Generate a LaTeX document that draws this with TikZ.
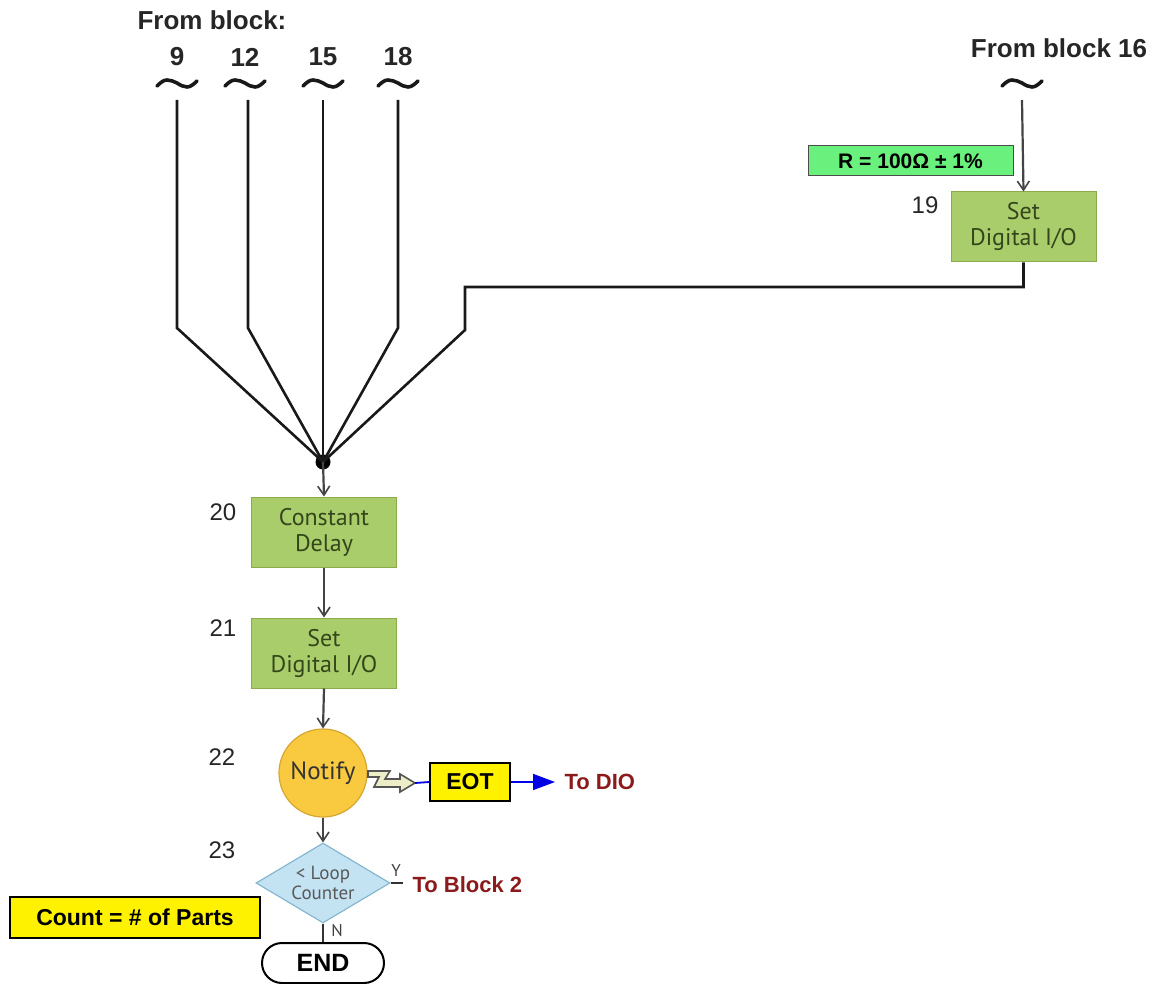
\documentclass[tikz,border=0pt]{standalone}
\usepackage{fontspec}
\setmainfont{Liberation Sans}
\newfontfamily\boxfont{PT Sans}
\usetikzlibrary{shapes.geometric,arrows.meta}
\definecolor{procfill}{HTML}{AACD6C}
\definecolor{procline}{HTML}{8AAA4C}
\definecolor{proctext}{HTML}{34461A}
\definecolor{rfill}{HTML}{6AF07C}
\definecolor{notfill}{HTML}{F9C940}
\definecolor{notline}{HTML}{D6A632}
\definecolor{diafill}{HTML}{C4E3F2}
\definecolor{dialine}{HTML}{86B7D0}
\definecolor{darkred}{HTML}{8B1A1A}
\definecolor{conn}{HTML}{444444}
\definecolor{arrowgray}{HTML}{555555}
\definecolor{boltfill}{HTML}{EDEDC8}
\tikzset{
  proc/.style={rectangle, fill=procfill, draw=procline, line width=1pt, minimum width=145pt, minimum height=70pt, inner sep=0pt, align=center, text=proctext, font=\boxfont\fontsize{24}{26}\selectfont},
  num/.style={font=\fontsize{24}{26}\selectfont, text=black!85},
  head/.style={font=\bfseries\fontsize{26}{28}\selectfont, text=black!85},
  ybox/.style={rectangle, fill=yellow, draw=black, line width=1.2pt, inner sep=0pt, font=\bfseries\fontsize{23}{25}\selectfont},
  redtext/.style={font=\bfseries\fontsize{22}{24}\selectfont, text=darkred},
  flow/.style={draw=conn, line width=2.2pt, -{Straight Barb[length=9pt,width=12pt,line width=1.6pt]}},
  fan/.style={draw=black!90, line width=2.6pt},
  tilde/.style={draw=black!90, line width=3.6pt, line cap=round},
}
\begin{document}
\begin{tikzpicture}[x=1pt,y=-1pt]
\useasboundingbox (0,0) rectangle (1165,984);
% headings
\node[head] (fromblock) at (212,20) {From block:};
\node[head] (n9) at (177,57) {9};
\node[head] (n12) at (245,57) {12};
\node[head] (n15) at (323,57) {15};
\node[head] (n18) at (398,57) {18};
\node[head] (from16) at (1059,48) {From block 16};
% tildes
\foreach \x in {177,245,323,398,1022}{
  \draw[tilde] (\x-20,86) sin (\x-10,80) cos (\x,83) sin (\x+10,87) cos (\x+20,81);
}
% fan coordinates
\coordinate (t9) at (177,100);
\coordinate (b9) at (177,328);
\coordinate (t12) at (248,100);
\coordinate (b12) at (248,328);
\coordinate (t15) at (323,100);
\coordinate (t18) at (398,100);
\coordinate (b18) at (398,328);
\node[circle, fill=black, inner sep=0pt, minimum size=15pt] (j) at (323,462) {};
% right branch
\coordinate (t16) at (1022,100);
\node[rectangle, fill=rfill, draw=black!70, line width=1pt, minimum width=205pt, minimum height=30pt, inner sep=0pt, font=\bfseries\fontsize{21}{23}\selectfont] (rbox) at (910.5,161) {R = 100Ω ± 1\%};
\node[proc] (p19) at (1023.5,227) {Set\\Digital I/O};
\node[num] (l19) at (925,205) {19};
\draw[flow] (t16) -- (p19.north);
\coordinate (r1) at (1023.5,287);
\coordinate (r2) at (465,287);
\coordinate (r3) at (465,330);
\draw[fan] (p19.south) -- (r1) -- (r2) -- (r3) -- (j.center);
\draw[fan] (t9) -- (b9) -- (j.center);
\draw[fan] (t12) -- (b12) -- (j.center);
\draw[fan] (t15) -- (j.center);
\draw[fan] (t18) -- (b18) -- (j.center);
% main chain
\node[proc] (p20) at (324,532) {Constant\\Delay};
\node[num] (l20) at (223,512) {20};
\node[proc] (p21) at (324,653) {Set\\Digital I/O};
\node[num] (l21) at (223,628) {21};
\node[circle, fill=notfill, draw=notline, line width=1.2pt, minimum size=88pt, inner sep=0pt, text=black!80, font=\boxfont\fontsize{25}{27}\selectfont] (p22) at (323,773) {Notify};
\node[num] (l22) at (222,757) {22};
\node[diamond, fill=diafill, draw=dialine, line width=1.2pt, minimum width=134pt, minimum height=80pt, inner sep=0pt, shape aspect=1.675, align=center, text=black!65, font=\boxfont\fontsize{19}{20}\selectfont] (p23) at (323,883) {< Loop\\Counter};
\node[num] (l23) at (222,850) {23};
\node[rectangle, rounded corners=20pt, draw=black, line width=2pt, fill=white, minimum width=122pt, minimum height=40pt, inner sep=0pt, font=\bfseries\fontsize{25}{27}\selectfont] (endn) at (323,963) {END};
\node[ybox, minimum width=250pt, minimum height=41pt] (count) at (135,917.5) {Count = \# of Parts};
\draw[flow] (j.center) -- (p20.north);
\draw[flow] (p20.south) -- (p21.north);
\draw[flow] (p21.south) -- (p22.north);
\draw[flow] (p22.south) -- (p23.north);
% notify branch
\draw[fill=boltfill, draw=arrowgray, line width=1.6pt, line join=miter]
  (368,771) -- (390,771) -- (385,779) -- (400,779) -- (400,774) -- (415,783) -- (400,792) -- (400,787) -- (374,787) -- (379,777) -- (368,777) -- cycle;
\coordinate (boltend) at (415,783);
\node[ybox, minimum width=80pt, minimum height=38pt] (eot) at (470,782) {EOT};
\draw[blue!90!black, line width=1.8pt] (boltend) -- (eot.west);
\coordinate (dioend) at (555,782);
\draw[blue!90!black, line width=1.8pt, -{Triangle[length=22pt,width=16pt]}] (eot.east) -- (dioend);
\node[redtext, anchor=west] (todio) at (561,782) {To DIO};
% decision exits
\coordinate (yend) at (403,883);
\draw[black!80, line width=1.8pt] (p23.east) -- (yend);
\node[font=\boxfont\fontsize{17}{18}\selectfont, text=black!75] (ylab) at (396,871) {Y};
\node[redtext, anchor=west] (toblock) at (409,885) {To Block 2};
\draw[black!80, line width=1.8pt] (p23.south) -- (endn.north);
\node[font=\boxfont\fontsize{17}{18}\selectfont, text=black!75] (nlab) at (337,931) {N};
\end{tikzpicture}
\end{document}
